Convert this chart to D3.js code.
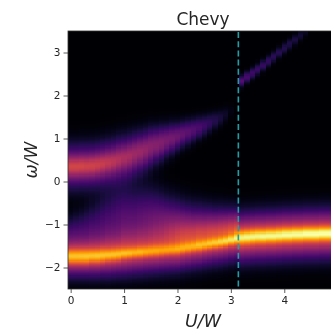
<!DOCTYPE html>
<html><head><meta charset="utf-8">
<script src="https://cdn.jsdelivr.net/npm/d3@7"></script>
<style>html,body{margin:0;padding:0;background:#fff;overflow:hidden}svg{display:block}text{font-family:"DejaVu Sans",sans-serif;fill:#262626}</style>
</head><body><svg id="c" width="331" height="329"></svg>
<script>
const titleText="Chevy", xLabel="U/W", yLabel="ω/W";
const xTicks=[0,1,2,3,4], yTicks=[-2,-1,0,1,2,3];
const criticalU=3.14;
const U=[0,.1,.2,.3,.4,.5,.6,.7,.8,.9,1,1.1,1.2,1.3,1.4,1.5,1.6,1.7,1.8,1.9,2,2.1,2.2,2.3,2.4,2.5,2.6,2.7,2.8,2.9,3,3.1,3.2,3.3,3.4,3.5,3.6,3.7,3.8,3.9,4,4.1,4.2,4.3,4.4,4.5,4.6,4.7,4.8,4.9];
const upperC=[.37,.37,.38,.38,.39,.41,.43,.46,.49,.53,.57,.61,.66,.71,.76,.82,.87,.92,.97,1.02,1.07,1.12,1.17,1.22,1.27,1.32,1.38,1.44,1.5,1.58,1.66,1.7,1.7,1.7,1.7,1.7,1.7,1.7,1.7,1.7,1.7,1.7,1.7,1.7,1.7,1.7,1.7,1.7,1.7,1.7];
const upperA=[.37,.37,.37,.37,.37,.37,.37,.37,.37,.37,.37,.37,.37,.37,.37,.37,.36,.35,.33,.32,.30,.28,.26,.24,.22,.19,.16,.13,.10,.07,.03,0,0,0,0,0,0,0,0,0,0,0,0,0,0,0,0,0,0,0];
const upperS=[.35,.35,.35,.35,.35,.35,.35,.35,.35,.35,.34,.34,.33,.32,.31,.30,.28,.27,.25,.24,.22,.21,.20,.19,.18,.17,.16,.15,.14,.13,.12,.1,.1,.1,.1,.1,.1,.1,.1,.1,.1,.1,.1,.1,.1,.1,.1,.1,.1,.1];
const coreA=[.19,.19,.19,.18,.18,.17,.16,.14,.12,.10,.08,.07,.05,.04,.02,0,0,0,0,0,0,0,0,0,0,0,0,0,0,0,0,0,0,0,0,0,0,0,0,0,0,0,0,0,0,0,0,0,0,0];
const coreS=[.15,.15,.15,.15,.15,.15,.15,.15,.15,.15,.15,.15,.15,.15,.15,.15,.15,.15,.15,.15,.15,.15,.15,.15,.15,.15,.15,.15,.15,.15,.15,.15,.15,.15,.15,.15,.15,.15,.15,.15,.15,.15,.15,.15,.15,.15,.15,.15,.15,.15];
const topC=[2,2,2,2,2,2,2,2,2,2,2,2,2,2,2,2,2,2,2,2,2,2,2,2,2,2,2,2,2,2,2,2,2.36,2.45,2.54,2.63,2.72,2.82,2.92,3.02,3.12,3.22,3.32,3.42,3.52,3.6,3.7,3.8,3.9,4];
const topA=[0,0,0,0,0,0,0,0,0,0,0,0,0,0,0,0,0,0,0,0,0,0,0,0,0,0,0,0,0,0,0,0,.24,.21,.19,.18,.17,.16,.15,.14,.13,.12,.11,.09,.06,0,0,0,0,0];
const topS=[.09,.09,.09,.09,.09,.09,.09,.09,.09,.09,.09,.09,.09,.09,.09,.09,.09,.09,.09,.09,.09,.09,.09,.09,.09,.09,.09,.09,.09,.09,.09,.09,.09,.09,.09,.09,.09,.09,.09,.09,.09,.09,.09,.09,.09,.09,.09,.09,.09,.09];
const lowerC=[-1.72,-1.72,-1.72,-1.72,-1.71,-1.71,-1.70,-1.69,-1.68,-1.67,-1.65,-1.64,-1.63,-1.62,-1.61,-1.60,-1.59,-1.58,-1.57,-1.56,-1.55,-1.53,-1.51,-1.49,-1.47,-1.45,-1.43,-1.41,-1.39,-1.37,-1.34,-1.31,-1.28,-1.27,-1.26,-1.25,-1.25,-1.24,-1.24,-1.23,-1.22,-1.22,-1.21,-1.21,-1.20,-1.20,-1.20,-1.19,-1.19,-1.19];
const lowerA=[.30,.30,.30,.30,.30,.30,.30,.30,.30,.30,.30,.30,.29,.29,.28,.27,.26,.25,.25,.24,.24,.24,.24,.25,.26,.27,.28,.29,.30,.31,.32,.33,.36,.37,.37,.37,.38,.38,.38,.38,.39,.39,.39,.39,.40,.40,.40,.40,.40,.40];
const lowerS=[.12,.12,.12,.12,.11,.11,.11,.10,.10,.10,.09,.09,.09,.09,.09,.09,.09,.09,.085,.085,.085,.085,.085,.085,.085,.085,.085,.085,.085,.085,.085,.09,.11,.11,.11,.11,.11,.11,.11,.11,.11,.11,.11,.11,.11,.11,.11,.11,.11,.11];
const pedA=[.55,.55,.55,.55,.54,.54,.53,.52,.51,.50,.49,.48,.47,.47,.46,.46,.46,.45,.45,.45,.45,.44,.44,.43,.43,.42,.42,.42,.42,.42,.42,.44,.60,.60,.60,.60,.60,.60,.60,.60,.60,.60,.60,.60,.60,.60,.60,.60,.60,.60];
const pedS=[.30,.30,.30,.30,.31,.31,.31,.32,.32,.32,.33,.33,.33,.33,.33,.33,.33,.33,.33,.33,.33,.33,.33,.33,.33,.33,.33,.33,.33,.33,.33,.33,.36,.36,.36,.36,.36,.36,.36,.36,.36,.36,.36,.36,.36,.36,.36,.36,.36,.36];
const shoulderC=[-1.1,-1.08,-1.06,-1.03,-1.0,-.97,-.94,-.91,-.88,-.86,-.85,-.85,-.85,-.85,-.85,-.86,-.88,-.91,-.94,-.97,-1.0,-1.02,-1.03,-1.04,-1.05,-1.05,-1.05,-1.05,-1.05,-1.05,-1.05,-1.05,-1.05,-1.05,-1.05,-1.05,-1.05,-1.05,-1.05,-1.05,-1.05,-1.05,-1.05,-1.05,-1.05,-1.05,-1.05,-1.05,-1.05,-1.05];
const shoulderA=[.14,.15,.16,.17,.18,.19,.20,.21,.22,.23,.24,.24,.24,.25,.26,.27,.28,.29,.30,.31,.32,.32,.31,.30,.30,.29,.29,.28,.28,.28,.28,.27,0,0,0,0,0,0,0,0,0,0,0,0,0,0,0,0,0,0];
const shoulderS=[.25,.27,.29,.31,.34,.37,.40,.43,.46,.48,.50,.50,.50,.50,.49,.48,.47,.45,.43,.42,.41,.40,.39,.38,.38,.37,.36,.35,.35,.34,.33,.32,.2,.2,.2,.2,.2,.2,.2,.2,.2,.2,.2,.2,.2,.2,.2,.2,.2,.2];
const omega=d3.range(-2.5,3.5001,.025);

const m={l:68,t:31,b:289,r:335};
const x=d3.scaleLinear().domain([-.05,4.95]).range([m.l,m.r]);
const y=d3.scaleLinear().domain([-2.5,3.5]).range([m.b,m.t]);
const svg=d3.select("#c");
const defs=svg.append("defs");
defs.append("filter").attr("id","soft").attr("color-interpolation-filters","sRGB").attr("filterUnits","userSpaceOnUse").attr("x",0).attr("y",0).attr("width",331).attr("height",329).append("feGaussianBlur").attr("stdDeviation",.4);
defs.append("filter").attr("id","softimg").attr("color-interpolation-filters","sRGB").attr("filterUnits","userSpaceOnUse").attr("x",m.l-5).attr("y",m.t-5).attr("width",m.r-m.l+10).attr("height",m.b-m.t+10).append("feGaussianBlur").attr("stdDeviation",.7);
defs.append("clipPath").attr("id","axclip").append("rect").attr("x",m.l).attr("y",m.t).attr("width",m.r-m.l).attr("height",m.b-m.t);
const gauss=(w,c,s)=>Math.exp(-.5*((w-c)/s)**2);
function val(i,w){return upperA[i]*gauss(w,upperC[i],upperS[i])+coreA[i]*gauss(w,upperC[i],coreS[i])+topA[i]*gauss(w,topC[i],topS[i])+lowerA[i]*gauss(w,lowerC[i],lowerS[i])+pedA[i]*gauss(w,lowerC[i],pedS[i])+shoulderA[i]*gauss(w,shoulderC[i],shoulderS[i]);}
const color=d3.scaleSequential(d3.interpolateInferno).domain([0,1]);
const cells=[];U.forEach((u,i)=>omega.forEach(w=>cells.push({u,w,v:val(i,w)})));
const img=svg.append("g").attr("clip-path","url(#axclip)").append("g").attr("filter","url(#softimg)").attr("shape-rendering","crispEdges");
img.selectAll("rect").data(cells).join("rect")
 .attr("x",d=>x(d.u-.05)).attr("y",d=>y(d.w+.0125))
 .attr("width",x(.1)-x(0)+1).attr("height",y(0)-y(.025)+1)
 .attr("fill",d=>color(Math.min(1,d.v)));
const dec=svg.append("g").attr("filter","url(#soft)");
dec.append("line").attr("x1",x(criticalU)).attr("x2",x(criticalU)).attr("y1",m.t+1).attr("y2",m.b).attr("stroke","#1f9ea6").attr("stroke-width",1.6).attr("stroke-dasharray","6,3.2");
dec.append("rect").attr("x",m.l).attr("y",m.t).attr("width",m.r-m.l).attr("height",m.b-m.t).attr("fill","none").attr("stroke","#333").attr("stroke-width",.8);
const fmt=d=>d<0?"−"+(-d):""+d;
const ax=dec.append("g").attr("transform",`translate(0,${m.b})`).call(d3.axisBottom(x).tickValues(xTicks).tickFormat(fmt).tickSize(4).tickPadding(4));
const ay=dec.append("g").attr("transform",`translate(${m.l},0)`).call(d3.axisLeft(y).tickValues(yTicks).tickFormat(fmt).tickSize(4.5).tickPadding(3));
[ax,ay].forEach(a=>{a.select(".domain").remove();a.selectAll("line").attr("stroke","#333").attr("stroke-width",.8);a.selectAll("text").attr("font-size",10.5).attr("font-family","DejaVu Sans").attr("fill","#262626");});
dec.append("text").attr("x",(m.l+m.r)/2+1.5).attr("y",25).attr("text-anchor","middle").attr("font-size",17).text(titleText);
dec.append("text").attr("x",(m.l+m.r)/2+1.5).attr("y",326.5).attr("text-anchor","middle").attr("font-size",17.5).attr("font-style","italic").text(xLabel);
dec.append("text").attr("transform",`translate(36.5,${(m.t+m.b)/2}) rotate(-90)`).attr("text-anchor","middle").attr("font-size",17).attr("font-style","italic").text(yLabel);
</script></body></html>
